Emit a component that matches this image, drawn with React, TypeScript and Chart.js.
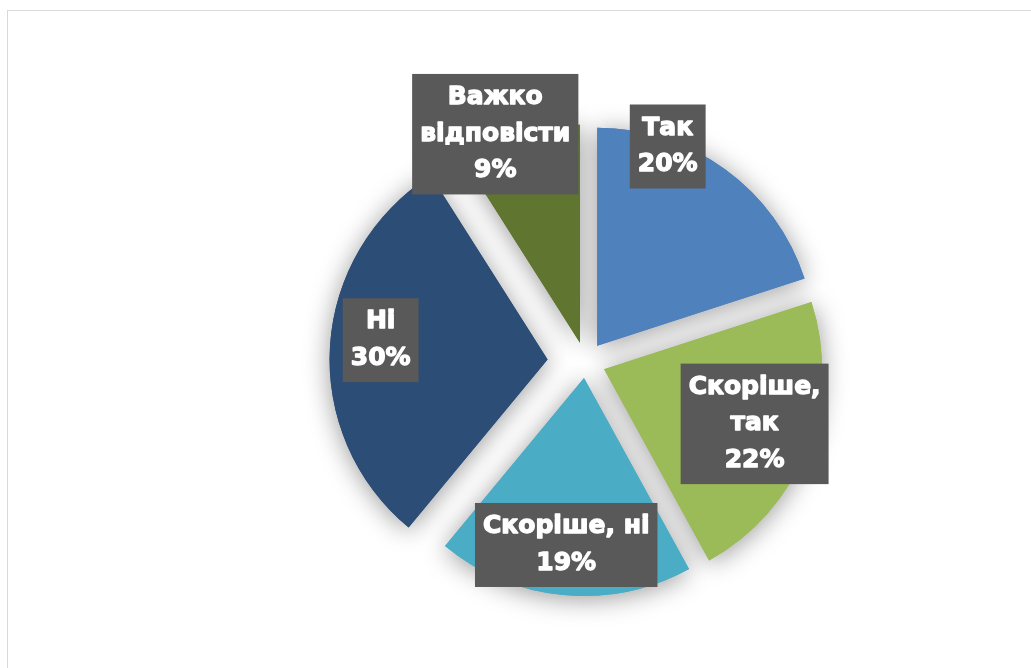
import React, { useEffect, useRef } from "react";
import { Chart, registerables } from "chart.js";

Chart.register(...registerables);

// Data
const categories: string[][] = [
  ["Так"],
  ["Скоріше,", "так"],
  ["Скоріше, ні"],
  ["Ні"],
  ["Важко", "відповісти"],
];
const values: number[] = [20, 22, 19, 30, 9];

// Styles
const colors = ["#4F81BD", "#9BBB59", "#4BACC6", "#2C4D75", "#5F7530"];
const explode = [20, 20, 16, 38, 20];
// label anchor: fraction along slice angle, radius factor of outer radius
const labelAngleFrac = [0.29, 0.481, 0.509, 0.523, 0.333];
const labelRadiusFrac = [1.058, 0.826, 0.844, 0.945, 1.124];

const FONT = "bold 25px 'DejaVu Sans'";
const LINE_H = 36.5;
const PAD_X = 8;
const PAD_Y = 5.5;

const pieExtras = {
  id: "pieExtras",
  beforeDatasetsDraw(chart: any) {
    const ctx = chart.ctx;
    const meta = chart.getDatasetMeta(0);
    meta.data.forEach((arc: any, i: number) => {
      arc._ox = arc.x;
      arc._oy = arc.y;
      const mid = (arc.startAngle + arc.endAngle) / 2;
      arc.x = arc._ox + Math.cos(mid) * explode[i];
      arc.y = arc._oy + Math.sin(mid) * explode[i];
    });
    ctx.save();
    ctx.shadowColor = "rgba(0,0,0,0.4)";
    ctx.shadowBlur = 26;
    ctx.shadowOffsetX = 0;
    ctx.shadowOffsetY = 3;
    meta.data.forEach((arc: any) => arc.draw(ctx));
    ctx.restore();
  },
  afterDatasetsDraw(chart: any) {
    const ctx = chart.ctx;
    const meta = chart.getDatasetMeta(0);
    meta.data.forEach((arc: any, i: number) => {
      const cx = arc._ox;
      const cy = arc._oy;
      arc.x = arc._ox;
      arc.y = arc._oy;
      const ang = arc.startAngle + (arc.endAngle - arc.startAngle) * labelAngleFrac[i];
      const r = arc.outerRadius * labelRadiusFrac[i];
      const px = cx + Math.cos(ang) * r;
      const py = cy + Math.sin(ang) * r;
      const lines = [...categories[i], `${values[i]}%`];
      ctx.save();
      ctx.font = FONT;
      const w = Math.max(...lines.map((l) => ctx.measureText(l).width)) + PAD_X * 2;
      const h = lines.length * LINE_H + PAD_Y * 2;
      ctx.fillStyle = "#595959";
      ctx.fillRect(px - w / 2, py - h / 2, w, h);
      ctx.fillStyle = "#FFFFFF";
      ctx.strokeStyle = "#FFFFFF";
      ctx.lineWidth = 1.3;
      ctx.lineJoin = "round";
      ctx.textAlign = "center";
      ctx.textBaseline = "middle";
      lines.forEach((l, k) => {
        const ly = py - ((lines.length - 1) / 2) * LINE_H + k * LINE_H;
        ctx.fillText(l, px, ly);
        ctx.strokeText(l, px, ly);
      });
      ctx.restore();
    });
  },
};

export default function App() {
  const ref = useRef<HTMLCanvasElement | null>(null);
  useEffect(() => {
    if (!ref.current) return;
    const chart = new Chart(ref.current, {
      type: "pie",
      data: {
        labels: categories,
        datasets: [
          {
            data: values,
            backgroundColor: colors,
            borderWidth: 0,
            offset: 0,
            hoverOffset: 0,
          },
        ],
      },
      options: {
        responsive: false,
        animation: false,
        events: [],
        radius: 218,
        layout: { padding: { left: 140, right: 0, top: 56, bottom: 0 } },
        plugins: {
          legend: { display: false },
          tooltip: { enabled: false },
        },
      } as any,
      plugins: [pieExtras],
    });
    return () => chart.destroy();
  }, []);

  return (
    <div
      style={{
        position: "fixed",
        left: 0,
        top: 0,
        width: 1031,
        height: 668,
        overflow: "hidden",
        background: "#FFFFFF",
      }}
    >
      <div
        style={{
          position: "absolute",
          left: 7,
          top: 10,
          width: 1200,
          height: 800,
          border: "1px solid #D9D9D9",
          boxSizing: "border-box",
        }}
      />
      <canvas
        ref={ref}
        width={1031}
        height={668}
        style={{ position: "absolute", left: 0, top: 0, width: 1031, height: 668 }}
      />
    </div>
  );
}
